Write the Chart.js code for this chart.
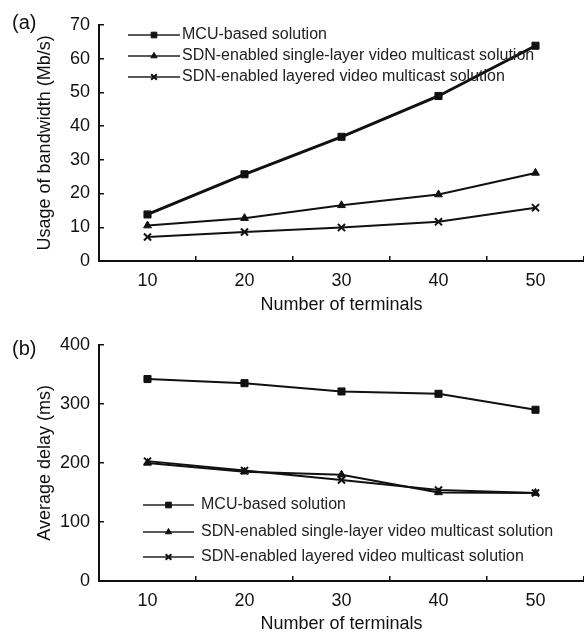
<!DOCTYPE html>
<html lang="en">
<head>
<meta charset="UTF-8">
<title>Bandwidth and delay vs number of terminals</title>
<script src="https://cdn.jsdelivr.net/npm/chart.js"></script>
<style>
    html, body { margin: 0; padding: 0; background: #fff; overflow: hidden; }
    body { width: 584px; height: 635px; position: relative; font-family: "Liberation Sans", Arial, sans-serif; }
    .panel { position: absolute; left: 0; width: 584px; }
    .tag { position: absolute; left: 12px; font-size: 20px; line-height: 24px; color: #111; }
</style>
</head>
<body>
<div class="panel" style="top:0;height:320px;"><canvas id="chartA" width="584" height="320"></canvas></div>
<div class="panel" style="top:320px;height:315px;"><canvas id="chartB" width="584" height="315"></canvas></div>
<div class="tag" style="top:10px;">(a)</div>
<div class="tag" style="top:336px;">(b)</div>
<script>
// data
const terminals = [10, 20, 30, 40, 50];
const seriesNames = [
    'MCU-based solution',
    'SDN-enabled single-layer video multicast solution',
    'SDN-enabled layered video multicast solution'
];
const bandwidthMCU = [13.8, 25.7, 36.8, 48.9, 63.8];
const bandwidthSingle = [10.5, 12.7, 16.5, 19.7, 26.1];
const bandwidthLayered = [7.1, 8.6, 9.9, 11.6, 15.8];
const delayMCU = [342, 335, 321, 317, 290];
const delaySingle = [200, 185, 180, 150, 149];
const delayLayered = [203, 187, 171, 154, 149];

const FONT = '"Liberation Sans", Arial, sans-serif';
const INK = '#111';

// legend drawn inside the plot: short line with the marker in the middle, then the label
const insideLegend = {
    id: 'insideLegend',
    afterDatasetsDraw(chart, args, opts) {
        const ctx = chart.ctx;
        ctx.save();
        chart.data.datasets.forEach((ds, i) => {
            const y = opts.rows[i];
            ctx.strokeStyle = '#222';
            ctx.lineWidth = 1.5;
            ctx.beginPath();
            ctx.moveTo(opts.x1, y);
            ctx.lineTo(opts.x2, y);
            ctx.stroke();
            ctx.fillStyle = INK;
            ctx.strokeStyle = INK;
            ctx.lineWidth = ds.pointBorderWidth;
            Chart.helpers.drawPoint(ctx, {
                pointStyle: ds.pointStyle, radius: ds.pointRadius * 0.8,
                borderWidth: ds.pointBorderWidth, rotation: 0
            }, (opts.x1 + opts.x2) / 2, y);
            ctx.fillStyle = '#222';
            ctx.font = '16px ' + FONT;
            ctx.textAlign = 'left';
            ctx.textBaseline = 'middle';
            ctx.fillText(ds.label, opts.textX, y);
        });
        ctx.restore();
    }
};

function makeSeries(label, values, style, width) {
    return {
        label: label,
        data: terminals.map((t, i) => ({ x: t, y: values[i] })),
        borderColor: INK,
        borderWidth: width,
        pointStyle: style,
        pointRadius: style === 'triangle' ? 4.5 : 5,
        pointBackgroundColor: INK,
        pointBorderColor: INK,
        pointBorderWidth: style === 'crossRot' ? 2 : 1,
        tension: 0
    };
}

function makeChart(id, datasets, yMax, yStep, yTitle, geo) {
    new Chart(document.getElementById(id), {
        type: 'line',
        data: { datasets },
        plugins: [insideLegend],
        options: {
            responsive: false,
            animation: false,
            devicePixelRatio: 1,
            layout: { autoPadding: false, padding: { top: geo.top, left: 0, right: 0, bottom: 0 } },
            plugins: {
                legend: { display: false },
                tooltip: { enabled: false },
                insideLegend: geo.legend
            },
            scales: {
                x: {
                    type: 'linear',
                    min: 5, max: 55,
                    afterFit: s => {
                        s.height = geo.xHeight;
                        s.paddingLeft = 0;
                        s.paddingRight = 0;
                    },
                    ticks: {
                        stepSize: 5, autoSkip: false, maxRotation: 0,
                        padding: 14, color: INK,
                        font: { family: FONT, size: 18 },
                        callback: v => (v % 10 === 0 ? v : '')
                    },
                    grid: {
                        drawOnChartArea: false, tickLength: -5, lineWidth: 1.5,
                        color: c => (c.tick && c.tick.value % 10 === 5 ? INK : 'transparent')
                    },
                    border: { color: INK, width: 2 },
                    title: {
                        display: true, text: 'Number of terminals', color: INK,
                        font: { family: FONT, size: 18 },
                        padding: { top: 0, bottom: geo.titlePad }
                    }
                },
                y: {
                    min: 0, max: yMax,
                    afterFit: s => { s.width = 99; },
                    ticks: {
                        stepSize: yStep, padding: 14, color: INK,
                        font: { family: FONT, size: 18 }
                    },
                    grid: { drawOnChartArea: false, tickLength: -5, lineWidth: 1.5, color: INK },
                    border: { color: INK, width: 2 },
                    title: {
                        display: true, text: yTitle, color: INK,
                        font: { family: FONT, size: 18 },
                        padding: { top: 34, bottom: 0 }
                    }
                }
            }
        }
    });
}

makeChart('chartA', [
    makeSeries(seriesNames[0], bandwidthMCU, 'rect', 3),
    makeSeries(seriesNames[1], bandwidthSingle, 'triangle', 2),
    makeSeries(seriesNames[2], bandwidthLayered, 'crossRot', 2)
], 70, 10, 'Usage of bandwidth (Mb/s)', {
    top: 23, xHeight: 59, titlePad: 4,
    legend: { x1: 128, x2: 180, textX: 182, rows: [35, 56, 77] }
});

makeChart('chartB', [
    makeSeries(seriesNames[0], delayMCU, 'rect', 2),
    makeSeries(seriesNames[1], delaySingle, 'triangle', 2),
    makeSeries(seriesNames[2], delayLayered, 'crossRot', 2)
], 400, 100, 'Average delay (ms)', {
    top: 24, xHeight: 54, titlePad: 0,
    legend: { x1: 143, x2: 194, textX: 201, rows: [185, 212, 237] }
});
</script>
</body>
</html>
